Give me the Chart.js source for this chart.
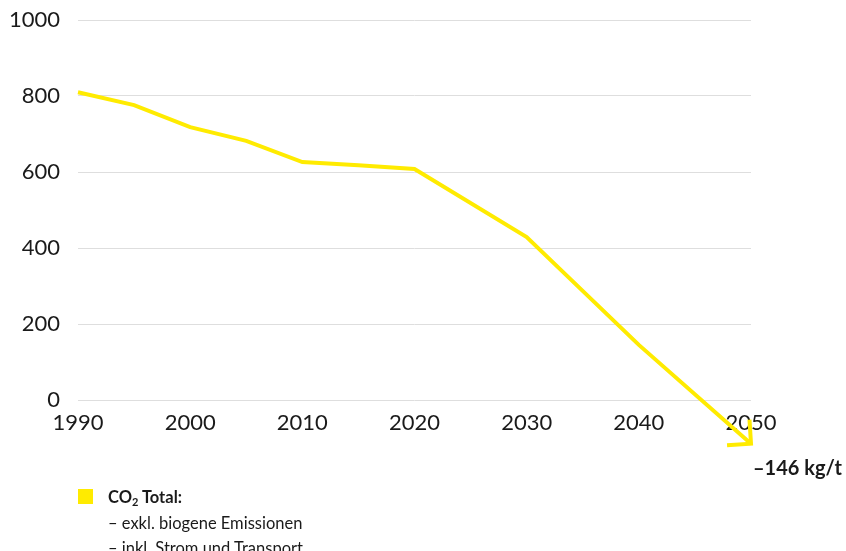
<!DOCTYPE html>
<html>
<head>
<meta charset="utf-8">
<script src="https://cdn.jsdelivr.net/npm/chart.js@4"></script>
<style>
  body { margin: 0; background: #fff; font-family: Lato, sans-serif; color: #1a1a1a; }
  #wrap { position: relative; width: 846px; height: 551px; }
  #note { position: absolute; left: 753px; top: 455px; font-weight: 700; font-size: 20px; line-height: 24px; }
  #legend { position: absolute; left: 78px; top: 486px; font-size: 16.5px; }
  #legend .box { position: absolute; left: 0; top: 3px; width: 15px; height: 15px; background: #ffeb00; }
  #legend .row { position: absolute; left: 30px; white-space: nowrap; line-height: 20px; }
  #legend sub { font-size: 11px; line-height: 0; vertical-align: -3px; }
</style>
</head>
<body>
<div id="wrap">
  <canvas id="co2Chart" width="846" height="551"></canvas>
  <div id="note">–146 kg/t</div>
  <div id="legend">
    <span class="box"></span>
    <div class="row" style="top:1px"><b>CO<sub>2</sub> Total:</b></div>
    <div class="row" style="top:27px">– exkl. biogene Emissionen</div>
    <div class="row" style="top:52px">– inkl. Strom und Transport</div>
  </div>
</div>
<script>
// values (kg CO2 per t)
const years = [1990, 1995, 2000, 2005, 2010, 2015, 2020, 2030, 2040, 2050];
const co2Total = [810, 776, 718, 682, 626, 618, 608, 429, 145, -115];
const yTicks = [0, 200, 400, 600, 800, 1000];
const xTicks = [1990, 2000, 2010, 2020, 2030, 2040, 2050];

const lineColor = "#ffeb00";

// open arrowhead at the last point
const arrowPlugin = {
  id: "arrowHead",
  afterDatasetsDraw(chart) {
    const pts = chart.getDatasetMeta(0).data;
    const a = pts[pts.length - 2], b = pts[pts.length - 1];
    const ang = Math.atan2(b.y - a.y, b.x - a.x);
    const len = 24, spread = Math.PI / 4;
    const ctx = chart.ctx;
    ctx.save();
    ctx.strokeStyle = lineColor;
    ctx.lineWidth = 4;
    ctx.beginPath();
    ctx.moveTo(b.x - len * Math.cos(ang - spread), b.y - len * Math.sin(ang - spread));
    ctx.lineTo(b.x, b.y);
    ctx.lineTo(b.x - len * Math.cos(ang + spread), b.y - len * Math.sin(ang + spread));
    ctx.stroke();
    ctx.restore();
  }
};

new Chart(document.getElementById("co2Chart"), {
  type: "line",
  data: {
    datasets: [{
      label: "CO2 Total",
      data: years.map((y, i) => ({ x: y, y: co2Total[i] })),
      borderColor: lineColor,
      borderWidth: 4,
      pointRadius: 0,
      tension: 0,
      clip: false
    }]
  },
  options: {
    responsive: false,
    animation: false,
    layout: { padding: { top: 20, right: 95, left: 0, bottom: 0 } },
    plugins: { legend: { display: false }, tooltip: { enabled: false } },
    scales: {
      x: {
        type: "linear",
        min: 1990,
        max: 2050,
        afterBuildTicks: s => { s.ticks = xTicks.map(v => ({ value: v })); },
        afterFit: s => { s.height = 151; },
        grid: { display: false, drawTicks: false },
        border: { display: false },
        ticks: {
          padding: 10,
          color: "#1a1a1a",
          font: { family: "Lato", size: 22 },
          callback: v => String(v)
        }
      },
      y: {
        min: 0,
        max: 1000,
        afterBuildTicks: s => { s.ticks = yTicks.map(v => ({ value: v })); },
        afterFit: s => { s.width = 78; s.paddingTop = 0; s.paddingBottom = 0; },
        grid: { color: "#dedede", lineWidth: 1, drawTicks: false },
        border: { display: false },
        ticks: {
          padding: 18,
          color: "#1a1a1a",
          font: { family: "Lato", size: 22 },
          callback: v => String(v)
        }
      }
    }
  },
  plugins: [arrowPlugin]
});
</script>
</body>
</html>
